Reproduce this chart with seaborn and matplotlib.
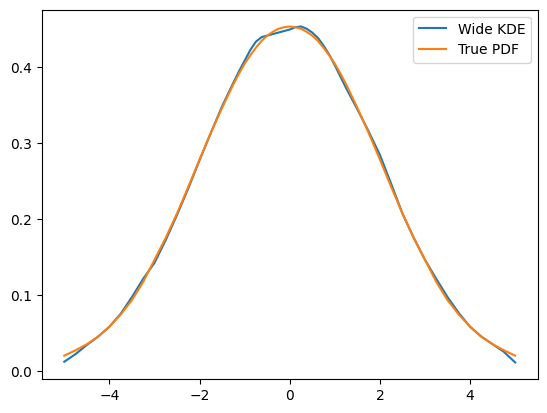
import numpy as np
import matplotlib
matplotlib.use("Agg")
import matplotlib.pyplot as plt
import seaborn as sns

# grid of x positions the curves were read at (finer near the peak)
x_grid = [-5.0, -4.75, -4.5, -4.25, -4.0, -3.75, -3.5, -3.25, -3.0, -2.75,
          -2.5, -2.25, -2.0, -1.75, -1.5,
          -1.25, -1.125, -1.0, -0.875, -0.75, -0.625, -0.5, -0.375, -0.25, -0.125,
          0.0, 0.125, 0.25, 0.375, 0.5, 0.625, 0.75, 0.875, 1.0, 1.125, 1.25,
          1.5, 1.75, 2.0, 2.25,
          2.5, 2.75, 3.0, 3.25, 3.5, 3.75, 4.0, 4.25, 4.5, 4.75, 5.0]

# wide-bandwidth KDE estimate
wide_kde = [0.012, 0.022, 0.034, 0.045, 0.058, 0.075, 0.097, 0.121, 0.142, 0.172,
            0.205, 0.240, 0.277, 0.313, 0.348,
            0.379, 0.394, 0.408, 0.422, 0.433, 0.439, 0.441, 0.443, 0.445, 0.447,
            0.449, 0.452, 0.453, 0.450, 0.445, 0.438, 0.428, 0.416, 0.402, 0.387, 0.372,
            0.344, 0.315, 0.284, 0.246,
            0.207, 0.175, 0.146, 0.121, 0.097, 0.076, 0.058, 0.045, 0.035, 0.025, 0.011]

# true density
true_pdf = [0.020, 0.027, 0.035, 0.045, 0.058, 0.074, 0.093, 0.117, 0.146, 0.175,
            0.207, 0.242, 0.278, 0.313, 0.346,
            0.377, 0.391, 0.404, 0.415, 0.425, 0.434, 0.441, 0.446, 0.450, 0.452,
            0.453, 0.452, 0.450, 0.446, 0.441, 0.434, 0.425, 0.415, 0.404, 0.391, 0.377,
            0.346, 0.313, 0.278, 0.242,
            0.207, 0.175, 0.146, 0.117, 0.093, 0.074, 0.058, 0.045, 0.035, 0.027, 0.020]

fig, ax = plt.subplots(figsize=(6.4, 4.8))
sns.lineplot(x=x_grid, y=wide_kde, label='Wide KDE', ax=ax)
sns.lineplot(x=x_grid, y=true_pdf, label='True PDF', ax=ax)
ax.legend(loc='upper right')

plt.savefig('out.png', dpi=100, bbox_inches='tight')
